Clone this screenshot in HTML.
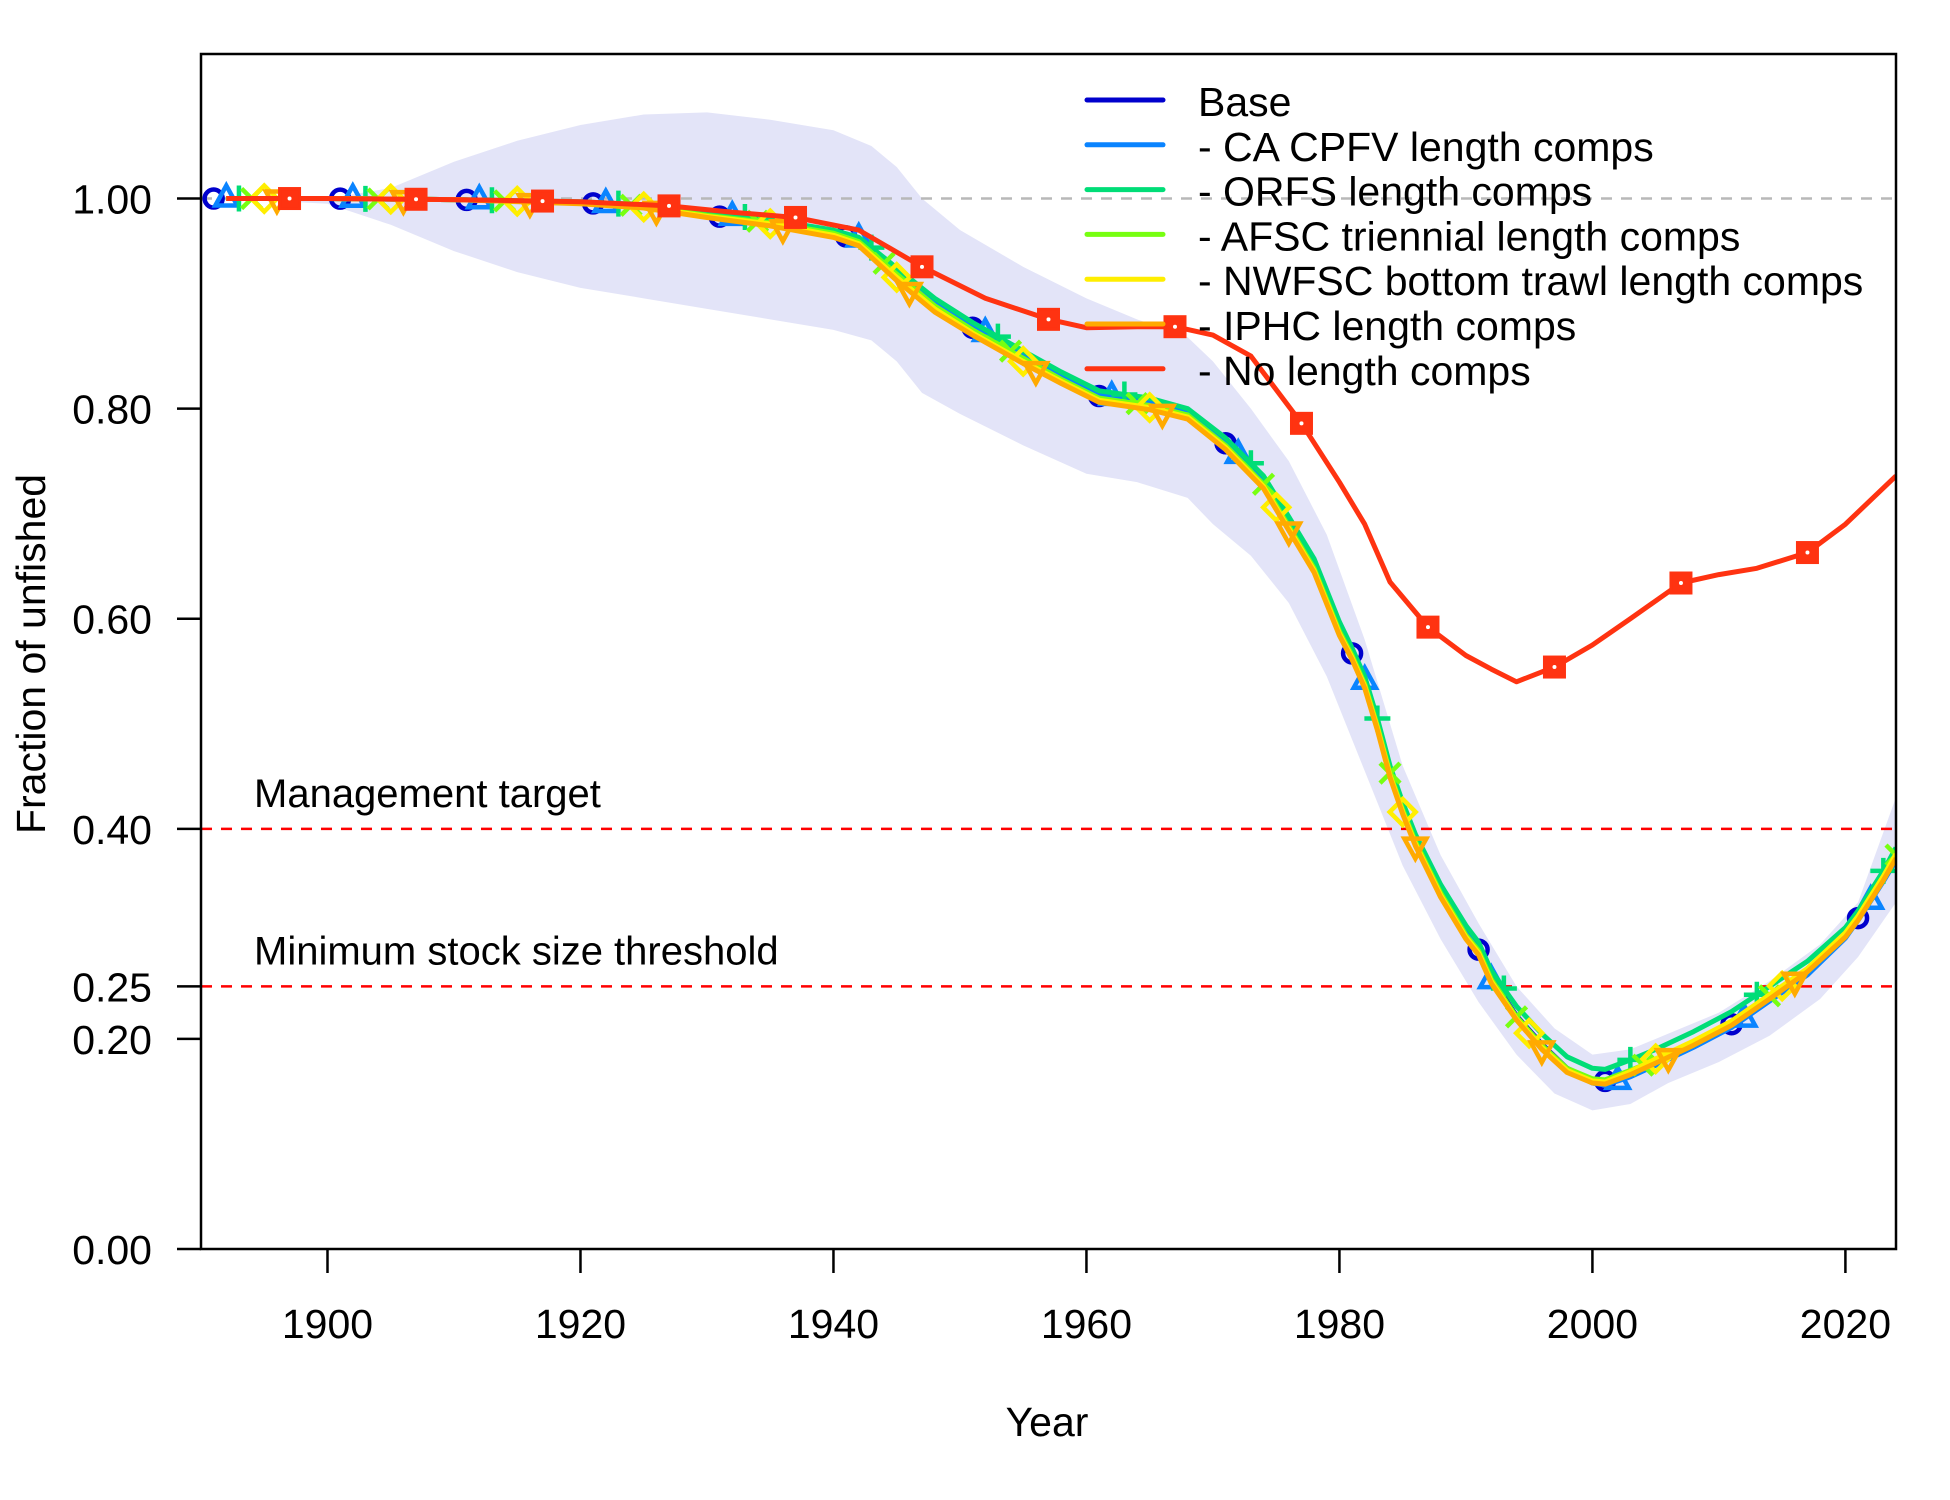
<!DOCTYPE html>
<html><head><meta charset="utf-8"><style>
html,body{margin:0;padding:0;background:#fff;}
svg{display:block;font-family:"Liberation Sans",Arial,sans-serif;}
</style></head><body>
<svg id="chart" width="1950" height="1500" viewBox="0 0 1950 1500">
<g id="band"></g>
<g id="refs"></g>
<g id="series"></g>
<g id="axes"></g>
<g id="legend"></g>
</svg>
<script>
const years = [1892,1900,1910,1920,1925,1930,1935,1940,1942,1945,1948,1951,1955,1958,1961,1965,1968,1971,1974,1976,1978,1980,1981,1982,1983,1984,1985,1986,1988,1990,1991,1992,1994,1996,1998,2000,2001,2003,2005,2008,2011,2014,2017,2020,2021,2023,2024];
const baseVals = [1.0,1.0,0.999,0.996,0.993,0.984,0.978,0.968,0.96,0.93,0.90,0.877,0.85,0.83,0.812,0.805,0.795,0.767,0.73,0.69,0.65,0.59,0.567,0.54,0.50,0.455,0.42,0.39,0.34,0.30,0.285,0.258,0.222,0.195,0.172,0.161,0.160,0.168,0.178,0.195,0.214,0.238,0.263,0.298,0.315,0.352,0.372];
const cpfvVals = [1.0,1.0,0.999,0.996,0.993,0.985,0.979,0.969,0.962,0.932,0.902,0.879,0.851,0.831,0.813,0.806,0.797,0.768,0.732,0.692,0.652,0.592,0.568,0.541,0.501,0.456,0.421,0.391,0.341,0.301,0.284,0.256,0.220,0.193,0.170,0.158,0.156,0.164,0.175,0.192,0.211,0.236,0.261,0.296,0.313,0.350,0.370];
const orfsVals = [1.0,1.0,0.999,0.997,0.994,0.986,0.98,0.970,0.963,0.934,0.905,0.882,0.855,0.835,0.817,0.810,0.800,0.772,0.736,0.697,0.657,0.597,0.572,0.545,0.505,0.46,0.425,0.395,0.347,0.308,0.292,0.265,0.231,0.205,0.183,0.172,0.171,0.180,0.190,0.207,0.226,0.250,0.274,0.306,0.322,0.360,0.382];
const afscVals = [1.0,1.0,0.999,0.996,0.993,0.984,0.977,0.967,0.959,0.928,0.898,0.875,0.848,0.828,0.810,0.803,0.794,0.765,0.728,0.688,0.648,0.588,0.565,0.538,0.498,0.453,0.418,0.388,0.339,0.299,0.284,0.257,0.221,0.194,0.172,0.162,0.161,0.170,0.180,0.197,0.216,0.241,0.266,0.300,0.316,0.354,0.375];
const nwfscVals = [1.0,1.0,0.999,0.996,0.992,0.983,0.976,0.965,0.957,0.925,0.895,0.872,0.845,0.826,0.808,0.801,0.792,0.763,0.726,0.686,0.646,0.586,0.563,0.536,0.496,0.451,0.416,0.386,0.337,0.297,0.282,0.255,0.219,0.192,0.170,0.160,0.159,0.169,0.181,0.198,0.217,0.242,0.267,0.301,0.317,0.355,0.376];
const iphcVals = [1.0,1.0,0.999,0.995,0.991,0.982,0.974,0.963,0.955,0.922,0.892,0.870,0.843,0.824,0.806,0.799,0.790,0.761,0.724,0.684,0.644,0.584,0.561,0.534,0.494,0.449,0.414,0.384,0.335,0.295,0.280,0.253,0.218,0.190,0.168,0.158,0.157,0.166,0.177,0.194,0.213,0.238,0.264,0.297,0.313,0.351,0.372];
const noLenYears = [1892,1900,1910,1920,1927,1932,1937,1942,1947,1952,1957,1960,1964,1967,1970,1973,1977,1980,1982,1984,1987,1990,1992,1994,1997,2000,2003,2007,2010,2013,2017,2020,2024];
const noLenVals = [1.0,1.0,0.999,0.997,0.993,0.987,0.982,0.97,0.935,0.905,0.885,0.877,0.878,0.878,0.87,0.85,0.786,0.73,0.69,0.635,0.592,0.565,0.552,0.54,0.554,0.575,0.60,0.634,0.642,0.648,0.663,0.69,0.736];
const bandYears = [1892,1900,1905,1910,1915,1920,1925,1930,1935,1940,1943,1945,1947,1950,1955,1960,1964,1968,1970,1973,1976,1979,1982,1985,1988,1991,1994,1997,2000,2003,2006,2010,2014,2018,2021,2024];
const bandUpper = [1.0,1.0,1.01,1.035,1.055,1.07,1.08,1.082,1.075,1.065,1.05,1.03,1.0,0.97,0.935,0.905,0.885,0.868,0.845,0.80,0.75,0.68,0.58,0.46,0.375,0.31,0.25,0.21,0.185,0.19,0.205,0.225,0.255,0.29,0.33,0.43];
const bandLower = [1.0,0.995,0.975,0.95,0.93,0.915,0.905,0.895,0.885,0.875,0.865,0.845,0.815,0.795,0.765,0.738,0.73,0.715,0.69,0.66,0.615,0.545,0.455,0.365,0.295,0.235,0.185,0.148,0.132,0.138,0.158,0.178,0.203,0.238,0.278,0.33];
const xTicks = [1900,1920,1940,1960,1980,2000,2020];
const yTicks = [0,0.2,0.25,0.4,0.6,0.8,1.0];
const yTickLabels = ["0.00","0.20","0.25","0.40","0.60","0.80","1.00"];
const legendLabels = ["Base","- CA CPFV length comps","- ORFS length comps","- AFSC triennial length comps","- NWFSC bottom trawl length comps","- IPHC length comps","- No length comps"];

const NS="http://www.w3.org/2000/svg";
const L=201,R=1896,T=54,B=1249;
const X0=1890,X1=2024,Y0=0,Y1=1.1376;
const xs=v=>L+(v-X0)/(X1-X0)*(R-L);
const ys=v=>B-(v-Y0)/(Y1-Y0)*(B-T);
function mk(tag,attrs,parent){const e=document.createElementNS(NS,tag);for(const k in attrs)e.setAttribute(k,attrs[k]);parent.appendChild(e);return e;}
function interp(xa,ya,x){for(let i=0;i<xa.length-1;i++){if(x>=xa[i]&&x<=xa[i+1]){const t=(x-xa[i])/(xa[i+1]-xa[i]);return ya[i]+t*(ya[i+1]-ya[i]);}}return ya[ya.length-1];}

const defs=mk('defs',{},document.getElementById('chart'));
const cp=mk('clipPath',{id:'clip'},defs);mk('rect',{x:L,y:T,width:R-L,height:B-T},cp);

const bandG=document.getElementById('band');bandG.setAttribute('clip-path','url(#clip)');
let d='';bandYears.forEach((y,i)=>{d+=(i?'L':'M')+xs(y)+','+ys(bandUpper[i]);});
for(let i=bandYears.length-1;i>=0;i--)d+='L'+xs(bandYears[i])+','+ys(bandLower[i]);
const bp=mk('path',{d:d+'Z',fill:'#e3e4f8',stroke:'none'},bandG);



const refG=document.getElementById('refs');
const g1=mk('line',{x1:L,x2:R,y1:ys(1),y2:ys(1),stroke:'#b8b8b8','stroke-width':2.5,'stroke-dasharray':'11,9'},refG);

[[0.4,'Management target','management-target'],[0.25,'Minimum stock size threshold','minimum-stock-threshold']].forEach(([v,txt,nm])=>{
 const ln=mk('line',{x1:L,x2:R,y1:ys(v),y2:ys(v),stroke:'#ff0000','stroke-width':2.5,'stroke-dasharray':'11,9'},refG);
 
 const t=mk('text',{x:254,y:ys(v)-22,'font-size':40,fill:'#000'},refG);t.textContent=txt;
 
});

const sG=document.getElementById('series');sG.setAttribute('clip-path','url(#clip)');
const seriesDefs=[
 {n:'base',c:'#0000cd',x:years,v:baseVals,m:'circle',s:1891},
 {n:'ca-cpfv',c:'#0a84ff',x:years,v:cpfvVals,m:'tri',s:1892},
 {n:'orfs',c:'#00dd77',x:years,v:orfsVals,m:'plus',s:1893},
 {n:'afsc',c:'#77ff11',x:years,v:afscVals,m:'cross',s:1894},
 {n:'nwfsc',c:'#ffee00',x:years,v:nwfscVals,m:'diamond',s:1895},
 {n:'iphc',c:'#ffaa00',x:years,v:iphcVals,m:'dtri',s:1896},
 {n:'no-length',c:'#ff3311',x:noLenYears,v:noLenVals,m:'square',s:1897}
];
seriesDefs.forEach(sd=>{
 const g=mk('g',{},sG);
 
 let p='';sd.x.forEach((y,i)=>{p+=(i?'L':'M')+xs(y).toFixed(1)+','+ys(sd.v[i]).toFixed(1);});
 const path=mk('path',{d:p,fill:'none',stroke:sd.c,'stroke-width':5,'stroke-linejoin':'round'},g);
 
 for(let yr=sd.s;yr<=2024;yr+=10){
  const cx=xs(yr),cy=ys(interp(sd.x,sd.v,Math.max(yr,sd.x[0])));const r=10;let e;
  const st={fill:'none',stroke:sd.c,'stroke-width':4.5};
  if(sd.m==='circle')e=mk('circle',Object.assign({cx,cy,r:9},st),g);
  else if(sd.m==='tri')e=mk('path',Object.assign({d:`M${cx},${cy-13}L${cx+11},${cy+7}L${cx-11},${cy+7}Z`},st),g);
  else if(sd.m==='dtri')e=mk('path',Object.assign({d:`M${cx},${cy+13}L${cx+11},${cy-7}L${cx-11},${cy-7}Z`},st),g);
  else if(sd.m==='plus')e=mk('path',Object.assign({d:`M${cx-13},${cy}H${cx+13}M${cx},${cy-13}V${cy+13}`},st),g);
  else if(sd.m==='cross')e=mk('path',Object.assign({d:`M${cx-r},${cy-r}L${cx+r},${cy+r}M${cx-r},${cy+r}L${cx+r},${cy-r}`},st),g);
  else if(sd.m==='diamond')e=mk('path',Object.assign({d:`M${cx},${cy-13}L${cx+13},${cy}L${cx},${cy+13}L${cx-13},${cy}Z`},st),g);
  else {e=mk('rect',{x:cx-10,y:cy-10,width:20,height:20,fill:sd.c,stroke:sd.c,'stroke-width':3},g);
   mk('circle',{cx,cy,r:2,fill:'#fff'},g);}
  
 }
});

const aG=document.getElementById('axes');
const box=mk('rect',{x:L,y:T,width:R-L,height:B-T,fill:'none',stroke:'#000','stroke-width':2.5},aG);

yTicks.forEach((v,i)=>{
 const tk=mk('line',{x1:L-24,x2:L,y1:ys(v),y2:ys(v),stroke:'#000','stroke-width':2.5},aG);
 
 const t=mk('text',{x:152,y:ys(v)+15,'font-size':41,'text-anchor':'end',fill:'#000'},aG);t.textContent=yTickLabels[i];
 
});
xTicks.forEach(v=>{
 const tk=mk('line',{x1:xs(v),x2:xs(v),y1:B,y2:B+24,stroke:'#000','stroke-width':2.5},aG);
 
 const t=mk('text',{x:xs(v),y:1338,'font-size':41,'text-anchor':'middle',fill:'#000'},aG);t.textContent=v;
 
});
const xt=mk('text',{x:1047,y:1436,'font-size':41,'text-anchor':'middle',fill:'#000'},aG);xt.textContent='Year';

const yt=mk('text',{x:0,y:0,'font-size':41,'text-anchor':'middle',fill:'#000',transform:'translate(45,654) rotate(-90)'},aG);yt.textContent='Fraction of unfished';


const lG=document.getElementById('legend');
legendLabels.forEach((lab,i)=>{
 const y=102+i*44.8;
 const g=mk('g',{},lG);
 
 mk('line',{x1:1087,x2:1163,y1:y-2,y2:y-2,stroke:seriesDefs[i].c,'stroke-width':5,'stroke-linecap':'round'},g);
 const t=mk('text',{x:1198,y:y+14,'font-size':41,fill:'#000'},g);t.textContent=lab;
});
</script>
</body></html>
